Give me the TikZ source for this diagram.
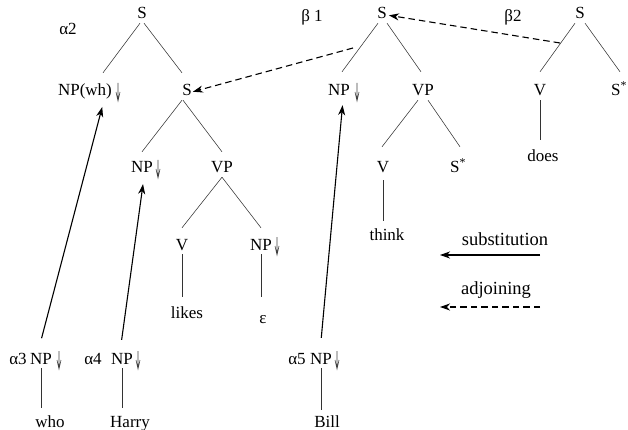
\documentclass[tikz,border=0pt]{standalone}
\usepackage{fontspec}
\setmainfont{Liberation Serif}
\usetikzlibrary{arrows.meta}
\begin{document}
\begin{tikzpicture}[x=1pt,y=-1pt,
  lab/.style={font=\fontsize{17}{20}\selectfont, inner sep=0pt, text height=12pt, text depth=4pt, anchor=base},
  leg/.style={lab, font=\fontsize{18.5}{22}\selectfont},
  treeline/.style={line width=0.55pt, black!80},
  subst/.style={line width=1.1pt, -{Stealth[length=10pt,width=7pt,inset=3pt]}},
  adjoin/.style={subst, dash pattern=on 6.5pt off 4pt},
  downmark/.pic={\draw[line width=0.6pt, black!75] (0,-13) -- (0,5) (-2,-4) -- (0,5) -- (2,-4);}
]
\useasboundingbox (0,0) rectangle (628,430);

% alpha 2
\node[lab] (a2S) at (142,19) {S};
\node[lab] (a2lab) at (68,35) {α2};
\node[lab] (a2NP) at (85,96) {NP(wh)};
\pic at (118,96) {downmark};
\node[lab] (a2S2) at (187,96) {S};
\node[lab] (a2NP2) at (142,173) {NP};
\pic at (158,173) {downmark};
\node[lab] (a2VP) at (222,173) {VP};
\node[lab] (a2V) at (182,250) {V};
\node[lab] (a2NP3) at (261,250) {NP};
\pic at (277,250) {downmark};
\node[lab] (a2likes) at (187,318) {likes};
\node[lab] (a2eps) at (263,323) {ε};

% alpha 3,4,5
\node[lab] (a3lab) at (18,364) {α3};
\node[lab] (a3NP) at (41,364) {NP};
\pic at (59,364) {downmark};
\node[lab] (a3w) at (50,427) {who};
\node[lab] (a4lab) at (93,364) {α4};
\node[lab] (a4NP) at (122,364) {NP};
\pic at (138,364) {downmark};
\node[lab] (a4w) at (130,427) {Harry};
\node[lab] (a5lab) at (297,364) {α5};
\node[lab] (a5NP) at (321,364) {NP};
\pic at (337,364) {downmark};
\node[lab] (a5w) at (327,427) {Bill};

% beta 1
\node[lab] (b1lab) at (312,22) {β 1};
\node[lab] (b1S) at (382,19) {S};
\node[lab] (b1NP) at (339,96) {NP};
\pic at (357,96) {downmark};
\node[lab] (b1VP) at (423,96) {VP};
\node[lab] (b1V) at (383,173) {V};
\node[lab] (b1Ss) at (458,173) {S\textsuperscript{*}};
\node[lab] (b1w) at (387,240) {think};

% beta 2
\node[lab] (b2lab) at (513,22) {β2};
\node[lab] (b2S) at (580,19) {S};
\node[lab] (b2V) at (540,96) {V};
\node[lab] (b2Ss) at (619,96) {S\textsuperscript{*}};
\node[lab] (b2w) at (543,162) {does};

% legend
\node[leg] (lsub) at (505,245) {substitution};
\node[leg] (ladj) at (496,294) {adjoining};
\coordinate (ls1) at (540,255); \coordinate (ls2) at (440,255);
\coordinate (la1) at (540,307); \coordinate (la2) at (440,307);
\coordinate (b2start) at (560,43);
\coordinate (b1start) at (353,48);

% tree lines alpha 2
\draw[treeline] ([xshift=-2pt]a2S.south) -- ([xshift=18pt,yshift=11pt]a2NP.north);
\draw[treeline] ([xshift=2pt]a2S.south) -- ([xshift=-5pt,yshift=11pt]a2S2.north);
\draw[treeline] ([xshift=-5pt]a2S2.south) -- ([yshift=9pt]a2NP2.north);
\draw[treeline] ([xshift=-4pt]a2S2.south) -- ([yshift=9pt]a2VP.north);
\draw[treeline] (a2VP.south) -- ([yshift=10pt]a2V.north);
\draw[treeline] (a2VP.south) -- ([yshift=10pt]a2NP3.north);
\draw[treeline, shorten >=9pt] (a2V.south) -- (a2V.south |- a2likes.north);
\draw[treeline, shorten >=14pt] (a2NP3.south) -- (a2NP3.south |- a2eps.north);

% leaves alpha 3,4,5
\draw[treeline, shorten >=7pt] (a3NP.south) -- (a3NP.south |- a3w.north);
\draw[treeline, shorten >=7pt] (a4NP.south) -- (a4NP.south |- a4w.north);
\draw[treeline, shorten >=5pt] (a5NP.south) -- (a5NP.south |- a5w.north);

% tree lines beta 1
\draw[treeline] ([xshift=-4pt]b1S.south) -- ([xshift=3pt,yshift=12pt]b1NP.north);
\draw[treeline] ([xshift=5pt]b1S.south) -- ([xshift=-2pt,yshift=12pt]b1VP.north);
\draw[treeline] ([xshift=-5pt]b1VP.south) -- ([xshift=-1pt,yshift=14pt]b1V.north);
\draw[treeline] ([xshift=5pt]b1VP.south) -- ([xshift=2pt,yshift=14pt]b1Ss.north);
\draw[treeline, shorten >=10pt] ([yshift=-3pt]b1V.south) -- ([yshift=-3pt]b1V.south |- b1w.north);

% tree lines beta 2
\draw[treeline] ([xshift=-5pt]b2S.south) -- ([yshift=12pt]b2V.north);
\draw[treeline] ([xshift=5pt]b2S.south) -- ([xshift=1pt,yshift=12pt]b2Ss.north);
\draw[treeline, shorten >=10pt] (b2V.south) -- (b2V.south |- b2w.north);

% substitution arrows
\draw[subst, shorten <=14pt, shorten >=7pt] ([xshift=-3pt]a3NP.north) -- ([xshift=19pt]a2NP.south);
\draw[subst, shorten <=12pt, shorten >=7pt] ([xshift=-2pt]a4NP.north) -- ([xshift=2pt]a2NP2.south);
\draw[subst, shorten <=14pt, shorten >=5pt] ([xshift=-1pt]a5NP.north) -- ([xshift=4pt]b1NP.south);

% adjoining arrows
\draw[adjoin, shorten >=2pt] (b2start) -- (b1S.east);
\draw[adjoin, shorten >=1pt] (b1start) -- (a2S2.east);

% legend arrows
\draw[subst] (ls1) -- (ls2);
\draw[adjoin] (la1) -- (la2);
\end{tikzpicture}
\end{document}
